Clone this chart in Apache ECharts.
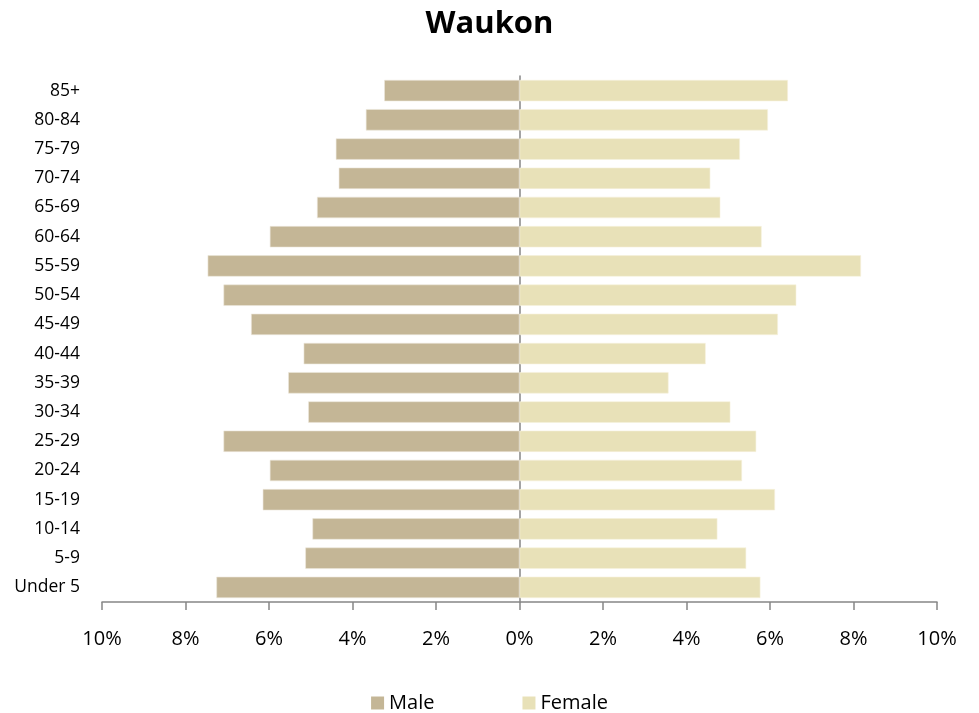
<!DOCTYPE html>
<html>
<head>
<meta charset="utf-8">
<script src="https://cdn.jsdelivr.net/npm/echarts@6/dist/echarts.min.js"></script>
<style>html,body{margin:0;padding:0;background:#fff;}#c{width:979px;height:713px;}</style>
</head>
<body>
<div id="c"></div>
<script>
const categories = ["Under 5","5-9","10-14","15-19","20-24","25-29","30-34","35-39","40-44","45-49","50-54","55-59","60-64","65-69","70-74","75-79","80-84","85+"];
const maleValues = [7.26,5.13,4.96,6.15,5.98,7.09,5.06,5.54,5.17,6.43,7.09,7.47,5.98,4.85,4.33,4.40,3.68,3.24];
const femaleValues = [5.77,5.43,4.74,6.12,5.33,5.67,5.05,3.57,4.46,6.19,6.63,8.18,5.80,4.81,4.57,5.28,5.95,6.43];
const xTicks = [-10,-8,-6,-4,-2,0,2,4,6,8,10];

const font = "'Open Sans','Noto Sans','Liberation Sans',sans-serif";
const chart = echarts.init(document.getElementById('c'));
chart.setOption({
  animation: false,
  title: {text: 'Waukon', left: 'center', top: 4, textStyle: {fontFamily: font, fontSize: 31, fontWeight: 'bold', color: '#000'}},
  legend: {
    top: 688, left: 'center', itemWidth: 13, itemHeight: 13, itemGap: 88,
    itemStyle: {borderWidth: 0},
    textStyle: {fontFamily: font, fontSize: 20, color: '#000'},
    data: [{name: 'Male', icon: 'rect'}, {name: 'Female', icon: 'rect'}]
  },
  grid: {left: 102, right: 42, top: 76, bottom: 111, containLabel: false},
  xAxis: {
    type: 'value', min: xTicks[0], max: xTicks[xTicks.length - 1], interval: 2,
    splitLine: {show: false},
    axisLine: {show: true, onZero: false, lineStyle: {color: '#868686', width: 1.5}},
    axisTick: {show: true, length: 8, lineStyle: {color: '#868686', width: 1.5}},
    axisLabel: {fontFamily: font, fontSize: 20, color: '#000', margin: 27, formatter: v => Math.abs(v) + '%'}
  },
  yAxis: {
    type: 'category', data: categories,
    axisLine: {show: true, onZero: true, lineStyle: {color: '#868686', width: 1.5}},
    axisTick: {show: false},
    axisLabel: {fontFamily: font, fontSize: 17.5, color: '#000', margin: 22}
  },
  series: [
    {name: 'Male', type: 'bar', data: maleValues.map(v => -v), barWidth: '73%', barGap: '-100%',
     itemStyle: {color: '#C4B696', borderColor: '#EDE8DC', borderWidth: 0.6}},
    {name: 'Female', type: 'bar', data: femaleValues, barWidth: '73%', barGap: '-100%',
     itemStyle: {color: '#E8E1B8', borderColor: '#F6F2DE', borderWidth: 0.6}}
  ]
});
</script>
</body>
</html>
